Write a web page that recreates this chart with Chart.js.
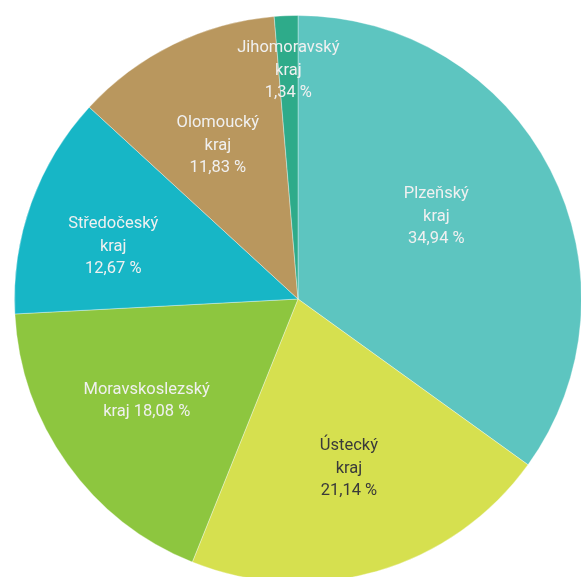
<!DOCTYPE html>
<html>
<head>
<meta charset="utf-8">
<script src="https://cdn.jsdelivr.net/npm/chart.js@4"></script>
<style>
  html, body { margin: 0; padding: 0; background: #fff; overflow: hidden; }
  #wrap { position: absolute; left: -2px; top: -1px; width: 600px; height: 600px; }
</style>
</head>
<body>
<div id="wrap"><canvas id="pieChart" width="600" height="600"></canvas></div>
<script>
const labels = [
  ['Plzeňský', 'kraj', '34,94 %'],
  ['Ústecký', 'kraj', '21,14 %'],
  ['Moravskoslezský', 'kraj 18,08 %'],
  ['Středočeský', 'kraj', '12,67 %'],
  ['Olomoucký', 'kraj', '11,83 %'],
  ['Jihomoravský', 'kraj', '1,34 %']
];
const values = [34.94, 21.14, 18.08, 12.67, 11.83, 1.34];

const colors = ['#5dc5c0', '#d6e04f', '#8dc63f', '#17b6c6', '#b9975e', '#2eab8a'];
const textColors = ['#f0f0f0', '#3a3a3a', '#f0f0f0', '#f0f0f0', '#f0f0f0', '#f0f0f0'];
// label placement: share of the radius along the slice middle, then a small nudge
const labelDist = [0.56, 0.62, 0.63, 0.67, 0.61, 0.81];
const labelNudge = [[-3, -10], [2, 1], [-6, -2], [-6, 12], [-4, 2], [0, 1]];

const sliceLabels = {
  id: 'sliceLabels',
  afterDatasetsDraw(chart) {
    const c = chart.ctx;
    const meta = chart.getDatasetMeta(0);
    c.save();
    c.font = '16.5px Roboto';
    c.textAlign = 'center';
    c.textBaseline = 'middle';
    meta.data.forEach((arc, i) => {
      const mid = (arc.startAngle + arc.endAngle) / 2;
      const r = arc.outerRadius * labelDist[i];
      const x = arc.x + Math.cos(mid) * r + labelNudge[i][0];
      const y = arc.y + Math.sin(mid) * r + labelNudge[i][1];
      const lines = labels[i];
      const lh = 22.5;
      c.fillStyle = textColors[i];
      lines.forEach((t, j) => {
        c.fillText(t, x, y + (j - (lines.length - 1) / 2) * lh);
      });
    });
    c.restore();
  }
};

new Chart(document.getElementById('pieChart'), {
  type: 'pie',
  data: {
    labels: labels.map(l => l.join(' ')),
    datasets: [{
      data: values,
      backgroundColor: colors,
      borderColor: 'rgba(255,255,255,0.35)',
      borderWidth: 1
    }]
  },
  options: {
    responsive: false,
    animation: false,
    layout: { padding: 16 },
    plugins: {
      legend: { display: false },
      tooltip: { enabled: false }
    }
  },
  plugins: [sliceLabels]
});
</script>
</body>
</html>
